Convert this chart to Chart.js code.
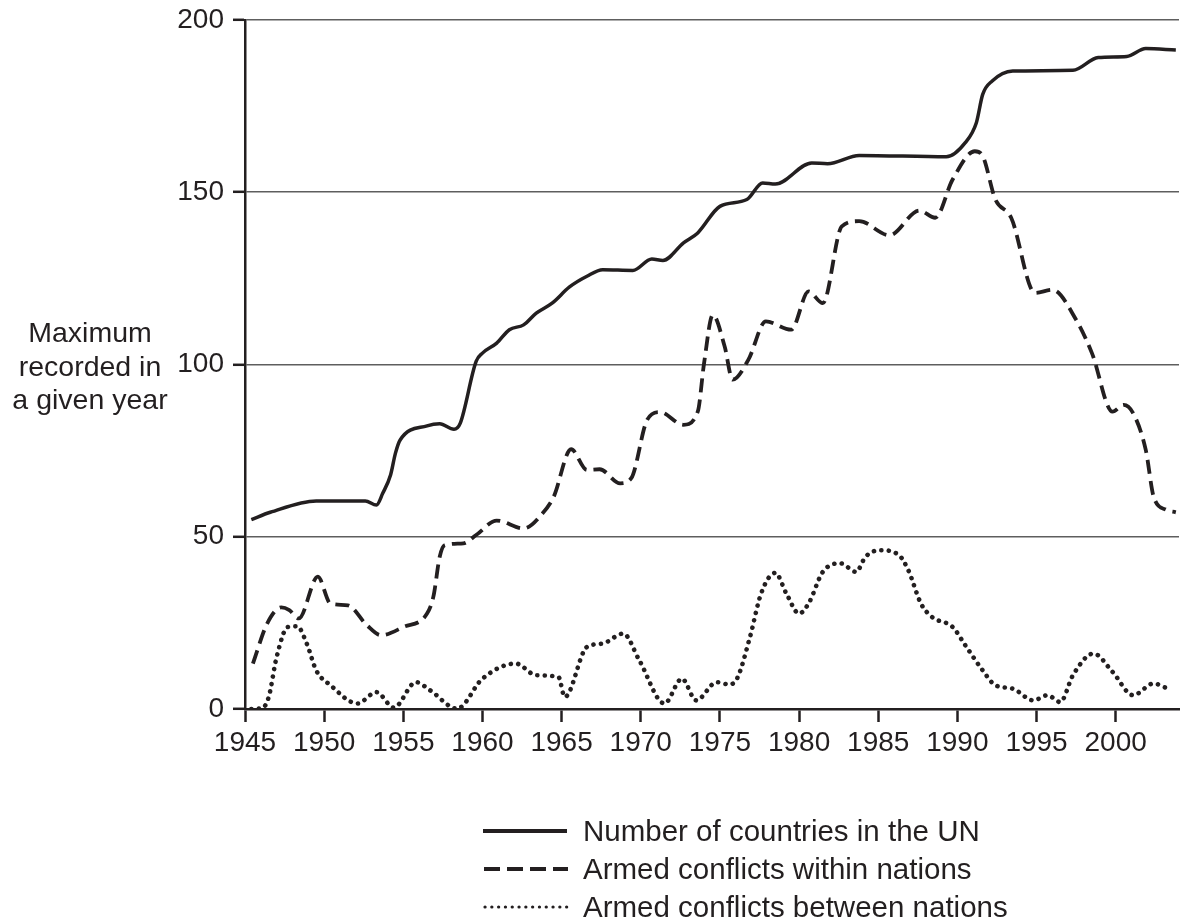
<!DOCTYPE html>
<html>
<head>
<meta charset="utf-8">
<script src="https://cdn.jsdelivr.net/npm/chart.js@4/dist/chart.umd.min.js"></script>
<style>
    html, body { margin: 0; padding: 0; background: #fff; }
    body { width: 1180px; height: 922px; position: relative; overflow: hidden;
           font-family: 'Liberation Sans', Arial, Helvetica, sans-serif; color: #231f20; }
    #chart { position: absolute; left: 0; top: 0; }
    .ytitle { position: absolute; left: 0; top: 316px; width: 180px; text-align: center;
              font-size: 28.5px; line-height: 33.5px; }
    .legend { position: absolute; left: 480px; top: 812px; font-size: 29.5px; }
    .legend .row { height: 38px; display: flex; align-items: center; }
    .legend svg { width: 92px; height: 20px; margin-right: 11px; }
</style>
</head>
<body>
<canvas id="chart" width="1180" height="922"></canvas>
<div class="ytitle">Maximum<br>recorded in<br>a given year</div>
<div class="legend">
    <div class="row"><svg><line x1="3" y1="10" x2="87" y2="10" stroke="#231f20" stroke-width="4"/></svg>Number of countries in the UN</div>
    <div class="row"><svg><line x1="4" y1="10" x2="88" y2="10" stroke="#231f20" stroke-width="4" stroke-dasharray="16 7"/></svg>Armed conflicts within nations</div>
    <div class="row"><svg><line x1="5" y1="10" x2="87" y2="10" stroke="#231f20" stroke-width="3.2" stroke-linecap="round" stroke-dasharray="0.1 6.7"/></svg>Armed conflicts between nations</div>
</div>
<script>
// 数据
const seriesLabels = ['Number of countries in the UN', 'Armed conflicts within nations', 'Armed conflicts between nations'];

const unYears = [1945.4, 1946.6, 1949.5, 1952.6, 1953.3, 1953.7, 1954.2, 1954.5, 1954.8, 1956.5, 1957.3, 1958.2, 1958.6,
    1959.6, 1960.0, 1960.9, 1961.7, 1962.6, 1963.4, 1964.4, 1965.5, 1966.6, 1967.6, 1969.5, 1970.7, 1971.4, 1972.7,
    1973.6, 1975.0, 1976.7, 1977.7, 1978.5, 1980.8, 1981.8, 1983.8, 1989.3, 1990.5, 1991.2, 1991.6, 1992.2, 1993.5,
    1997.3, 1998.9, 2000.7, 2001.9, 2003.8];
const unCount = [55.0, 57.1, 60.4, 60.4, 59.2, 62.6, 68.0, 74.2, 78.1, 82.2, 82.8, 81.2, 83.0,
    100.9, 103.3, 106.2, 110.1, 111.5, 114.9, 117.8, 122.5, 125.6, 127.5, 127.3, 130.6, 130.2, 135.3,
    138.2, 145.9, 147.9, 152.7, 152.4, 158.5, 158.3, 160.7, 160.3, 164.4, 170.2, 178.4, 182.3, 185.2,
    185.4, 189.1, 189.4, 191.7, 191.3];

const withinYears = [1945.5, 1946.4, 1947.3, 1947.8, 1948.4, 1949.6, 1950.4, 1951.5, 1952.7, 1953.6, 1955.0, 1956.5,
    1956.9, 1957.3, 1957.6, 1958.8, 1959.6, 1960.9, 1962.6, 1963.8, 1964.5, 1965.6, 1966.6, 1967.4, 1968.7, 1969.4,
    1970.4, 1971.2, 1972.7, 1973.6, 1974.0, 1974.55, 1975.3, 1975.8, 1976.8, 1977.9, 1979.5, 1980.6, 1981.5, 1982.7,
    1983.8, 1985.7, 1987.6, 1988.6, 1989.7, 1991.1, 1991.6, 1992.4, 1993.4, 1994.9, 1996.0, 1997.5, 1998.5, 1999.8,
    2000.5, 2001.1, 2001.9, 2002.4, 2003.2, 2003.8];
const withinCount = [13.2, 24.8, 29.5, 28.7, 26.3, 38.4, 30.6, 30.1, 24.3, 21.4, 23.8, 27.7,
    32.6, 44.2, 47.5, 48.1, 50.5, 54.7, 52.4, 56.8, 61.6, 75.4, 69.4, 69.6, 65.5, 67.0,
    83.9, 86.2, 82.5, 86.3, 100.4, 114.4, 105.2, 95.6, 101.4, 112.5, 110.1, 121.2, 117.8, 140.1,
    141.6, 137.5, 144.7, 142.6, 153.7, 161.9, 160.5, 147.9, 142.6, 120.8, 121.7, 113.0, 103.3, 86.3,
    88.3, 85.9, 75.2, 61.6, 57.8, 57.1];

const betweenYears = [1945.4, 1946.1, 1946.5, 1947.0, 1947.7, 1948.3, 1948.9, 1949.5, 1950.4, 1952.1, 1953.3, 1954.4,
    1955.8, 1956.7, 1958.4, 1960.0, 1962.1, 1963.4, 1964.8, 1965.2, 1966.6, 1967.6, 1968.9, 1969.9, 1971.5, 1972.6,
    1973.5, 1974.8, 1975.6, 1976.1, 1976.9, 1977.6, 1978.5, 1979.2, 1980.0, 1980.6, 1981.5, 1982.6, 1983.6, 1984.2,
    1985.1, 1986.3, 1986.9, 1987.7, 1988.4, 1989.7, 1990.5, 1991.6, 1992.4, 1993.5, 1994.8, 1995.7, 1996.5, 1997.3,
    1998.6, 1999.8, 2001.1, 2002.4, 2003.3];
const betweenCount = [0, 0.3, 3.5, 15.1, 23.8, 24.0, 19.0, 11.2, 6.9, 1.6, 4.9, 0.4,
    7.8, 5.4, 0.1, 8.8, 13.2, 9.8, 9.3, 3.5, 18.0, 19.0, 21.9, 14.2, 1.6, 8.8,
    2.5, 7.8, 7.1, 9.0, 20.9, 33.5, 39.5, 33.5, 27.7, 30.6, 39.8, 42.3, 39.8, 44.2,
    46.1, 44.7, 40.3, 30.6, 26.7, 23.8, 18.5, 11.2, 6.9, 5.9, 2.5, 4.0, 2.0, 9.8,
    16.1, 10.8, 4.0, 7.4, 5.9];

const yearTicks = [1945, 1950, 1955, 1960, 1965, 1970, 1975, 1980, 1985, 1990, 1995, 2000];
const valueTicks = [0, 50, 100, 150, 200];

const ink = '#231f20';
const font = { family: "'Liberation Sans', Arial, Helvetica, sans-serif", size: 28 };

const toPoints = (xs, ys) => xs.map((x, i) => ({ x: x, y: ys[i] }));

const lineBase = {
    borderColor: ink,
    pointRadius: 0,
    fill: false,
    cubicInterpolationMode: 'monotone'
};

new Chart(document.getElementById('chart'), {
    type: 'line',
    data: {
        datasets: [
            Object.assign({ label: seriesLabels[0], data: toPoints(unYears, unCount), borderWidth: 3.5 }, lineBase),
            Object.assign({ label: seriesLabels[1], data: toPoints(withinYears, withinCount), borderWidth: 3.8,
                borderDash: [14, 7] }, lineBase),
            Object.assign({ label: seriesLabels[2], data: toPoints(betweenYears, betweenCount), borderWidth: 4.6,
                borderDash: [0.1, 7.4], borderCapStyle: 'round' }, lineBase)
        ]
    },
    options: {
        responsive: false,
        animation: false,
        layout: { padding: { top: 20, right: 1, bottom: 0, left: 0 } },
        scales: {
            x: {
                type: 'linear',
                min: 1945,
                max: 2004,
                afterFit: (s) => { s.height = 213; },
                afterBuildTicks: (s) => { s.ticks = yearTicks.map(v => ({ value: v })); },
                grid: { drawOnChartArea: false, tickLength: 13, tickColor: ink, tickWidth: 2.5 },
                border: { color: ink, width: 2.5 },
                ticks: { color: ink, font: font, padding: 4, maxRotation: 0, callback: (v) => String(v) }
            },
            y: {
                min: 0,
                max: 200,
                // 固定左侧宽度，去掉标签带来的上下留白
                afterFit: (s) => { s.width = 245; s.paddingTop = 0; s.paddingBottom = 0; },
                afterBuildTicks: (s) => { s.ticks = valueTicks.map(v => ({ value: v })); },
                grid: { color: '#5e5e5e', lineWidth: 1.6, tickLength: 12, tickColor: ink, tickWidth: 2.5 },
                border: { color: ink, width: 2.5 },
                ticks: { color: ink, font: font, padding: 9 }
            }
        },
        plugins: {
            legend: { display: false },
            tooltip: { enabled: false }
        }
    }
});
</script>
</body>
</html>
